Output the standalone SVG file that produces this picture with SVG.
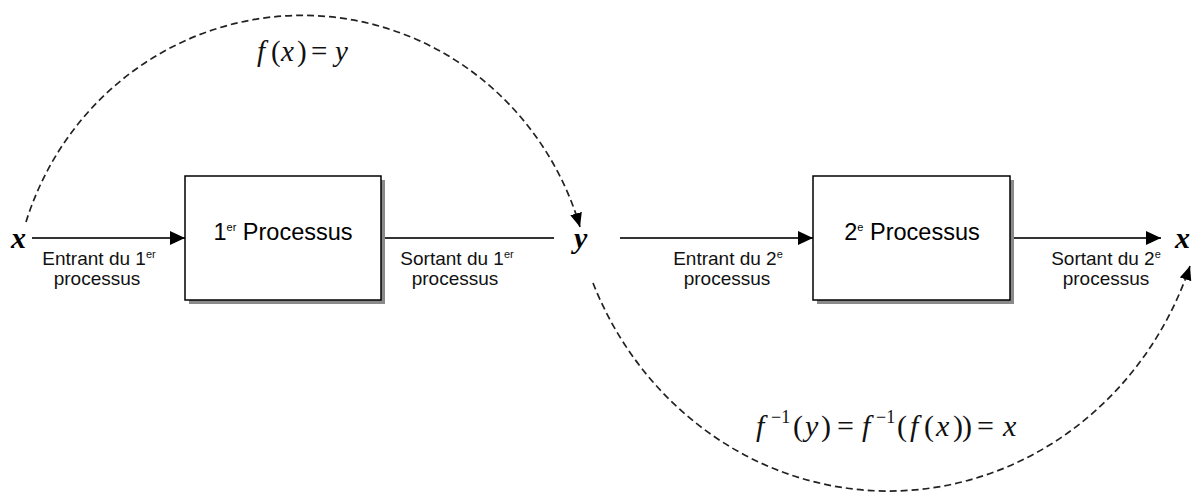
<svg xmlns="http://www.w3.org/2000/svg" width="1192" height="495" viewBox="0 0 1192 495">
<style>
.box{fill:#fff;stroke:#000;stroke-width:1.5}
.shadow{fill:#8a8a8a}
.lbl{font-family:"Liberation Sans",Arial,sans-serif;font-size:19px;fill:#111;text-anchor:middle}
.title{font-family:"Liberation Sans",Arial,sans-serif;font-size:23.5px;fill:#000;text-anchor:middle}
.sup{font-size:11px}
.var{font-family:"Liberation Serif","Times New Roman",serif;font-size:30px;font-style:italic;font-weight:bold;fill:#000}
.math{font-family:"Liberation Serif","Times New Roman",serif;font-size:29px;fill:#111}
.math2{font-family:"Liberation Serif","Times New Roman",serif;font-size:30px;fill:#111}
.it{font-style:italic}
.msup{font-size:18px}
.flow{stroke:#333;stroke-width:2;fill:none}
.dash{stroke:#222;stroke-width:1.7;fill:none;stroke-dasharray:7 4}
</style>
<defs>
<marker id="arr" markerUnits="userSpaceOnUse" markerWidth="16" markerHeight="16" refX="15" refY="7" orient="auto">
<path d="M0,0 L15,7 L0,14 z" fill="#000"/>
</marker>
<marker id="darr" markerUnits="userSpaceOnUse" markerWidth="15" markerHeight="14" refX="14" refY="6" orient="auto">
<path d="M0,0 L14,6 L0,12 z" fill="#000"/>
</marker>
</defs>
<rect width="1192" height="495" fill="#fff"/>

<g id="connectors">
<line class="flow" x1="32" y1="238" x2="185" y2="238" marker-end="url(#arr)"/>
<line class="flow" x1="381" y1="238" x2="554" y2="238"/>
<line class="flow" x1="620" y1="238" x2="813" y2="238" marker-end="url(#arr)"/>
<line class="flow" x1="1010" y1="238" x2="1161" y2="238" marker-end="url(#arr)"/>
<path class="dash" d="M 26 222 A 290 297 0 0 1 580 227" marker-end="url(#darr)"/>
<path class="dash" d="M 593 283 A 320 338 0 0 0 1190 266" marker-end="url(#darr)"/>
</g>

<g id="node-process1">
<rect class="shadow" x="189" y="180" width="196" height="124"/>
<rect class="box" x="185" y="176" width="196" height="124"/>
<text class="title" x="283" y="240">1<tspan class="sup" dy="-9">er</tspan><tspan dy="9"> Processus</tspan></text>
</g>

<g id="node-process2">
<rect class="shadow" x="817" y="180" width="197" height="124"/>
<rect class="box" x="813" y="176" width="197" height="124"/>
<text class="title" x="912" y="240">2<tspan class="sup" dy="-9">e</tspan><tspan dy="9"> Processus</tspan></text>
</g>

<g id="node-x">
<text class="var" x="11" y="248">x</text>
</g>
<g id="node-y">
<text class="var" x="574" y="248">y</text>
</g>
<g id="node-x-out">
<text class="var" x="1175" y="248">x</text>
</g>

<g id="labels">
<text class="lbl" x="99" y="265">Entrant du 1<tspan class="sup" dy="-7">er</tspan></text>
<text class="lbl" x="97" y="285">processus</text>
<text class="lbl" x="457" y="265">Sortant du 1<tspan class="sup" dy="-7">er</tspan></text>
<text class="lbl" x="455" y="285">processus</text>
<text class="lbl" x="728" y="265">Entrant du 2<tspan class="sup" dy="-7">e</tspan></text>
<text class="lbl" x="727" y="285">processus</text>
<text class="lbl" x="1106" y="265">Sortant du 2<tspan class="sup" dy="-7">e</tspan></text>
<text class="lbl" x="1106" y="285">processus</text>
</g>

<g id="formula-f">
<text class="math" y="61"><tspan class="it" x="257">f</tspan><tspan x="271">(</tspan><tspan class="it" x="281">x</tspan><tspan x="297">)</tspan><tspan x="311">=</tspan><tspan class="it" x="335">y</tspan></text>
</g>
<g id="formula-finv">
<text class="math2" y="436"><tspan class="it" x="756">f</tspan><tspan class="msup" x="771" y="423">−1</tspan><tspan x="793" y="436">(</tspan><tspan class="it" x="805">y</tspan><tspan x="821">)</tspan><tspan x="837">=</tspan><tspan class="it" x="862">f</tspan><tspan class="msup" x="876" y="423">−1</tspan><tspan x="897" y="436">(</tspan><tspan class="it" x="910">f</tspan><tspan x="924">(</tspan><tspan class="it" x="936">x</tspan><tspan x="953">)</tspan><tspan x="962">)</tspan><tspan x="977">=</tspan><tspan class="it" x="1003">x</tspan></text>
</g>
</svg>
